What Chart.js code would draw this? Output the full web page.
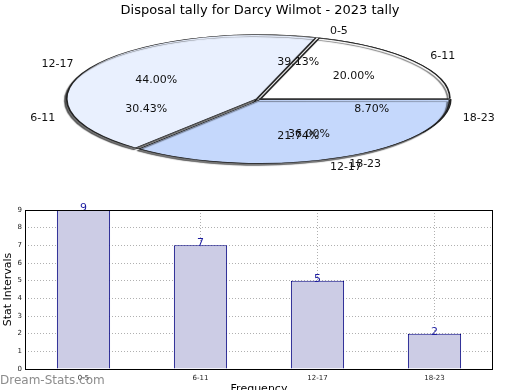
<!DOCTYPE html>
<html>
<head>
<meta charset="utf-8">
<script src="https://cdn.jsdelivr.net/npm/chart.js@4.4.0/dist/chart.umd.min.js"></script>
<style>
  html, body { margin: 0; padding: 0; background: #fff; overflow: hidden; }
  #wrap { position: relative; width: 520px; height: 390px; overflow: hidden; }
  canvas { position: absolute; left: 0; }
  #pieA, #pieB { top: 0; }
  #bars { top: 195px; }
  #mark { position: absolute; left: 0; top: 373px; font: 12px "DejaVu Sans", sans-serif; color: #8c8c8c; white-space: nowrap; }
</style>
</head>
<body>
<div id="wrap">
  <canvas id="pieA" width="520" height="200"></canvas>
  <canvas id="pieB" width="520" height="200"></canvas>
  <canvas id="bars" width="520" height="205"></canvas>
  <div id="mark">Dream-Stats.com</div>
</div>
<script>
const intervals = ["0-5", "6-11", "12-17", "18-23"];
// disposal counts per interval (bars + first pie)
const disposals = [9, 7, 5, 2];
// second pie drawn on top (20% / 44% / 36%)
const secondTally = [0, 5, 11, 9];
const sliceColors = ["#ffffff", "#ffffff", "#e9f0fe", "#c5d8fc"];
const yTicks = [0, 1, 2, 3, 4, 5, 6, 7, 8, 9];

const PIE_CX = 259, PIE_CY = 99, PIE_RX = 189, PIE_RY = 63.5;
const FONT = "'DejaVu Sans', sans-serif";

// squash the round pie into the flat ellipse, going anticlockwise from 3 o'clock
const ellipsePlugin = {
    id: "ellipse",
    beforeDatasetsDraw(chart, args, opts) {
        const arc = chart.getDatasetMeta(0).data[0];
        const ctx = chart.ctx;
        ctx.save();
        if (opts.rim) {
            ctx.shadowColor = "rgba(0, 0, 0, 0.55)";
            ctx.shadowOffsetX = -2;
            ctx.shadowOffsetY = 2;
            ctx.shadowBlur = 1;
        }
        ctx.translate(PIE_CX, PIE_CY);
        ctx.scale(PIE_RX / arc.outerRadius, -PIE_RY / arc.outerRadius);
        ctx.translate(-arc.x, -arc.y);
    },
    afterDatasetsDraw(chart) {
        chart.ctx.restore();
    }
};

function drawPieLabels(ctx, chart, values) {
    const total = values.reduce((a, b) => a + b, 0);
    chart.getDatasetMeta(0).data.forEach((arc, i) => {
        if (!values[i]) return;
        const mid = (arc.startAngle + arc.endAngle) / 2;
        const c = Math.cos(mid), s = Math.sin(mid);
        ctx.textBaseline = "middle";
        ctx.textAlign = "center";
        ctx.fillText((values[i] / total * 100).toFixed(2) + "%",
            PIE_CX + PIE_RX * 0.62 * c, PIE_CY - PIE_RY * 0.62 * s);
        ctx.textAlign = c >= 0 ? "left" : "right";
        ctx.fillText(intervals[i], PIE_CX + PIE_RX * 1.12 * c, PIE_CY - PIE_RY * 1.14 * s);
    });
}

function pieConfig(values, rim, extraPlugins) {
    return {
        type: "pie",
        data: {
            labels: intervals,
            datasets: [{
                data: values,
                backgroundColor: sliceColors,
                borderColor: "#222",
                borderWidth: 0.8,
                offset: 4,
                clip: false
            }]
        },
        options: {
            responsive: false,
            animation: false,
            events: [],
            rotation: 90,
            plugins: {
                legend: { display: false },
                tooltip: { enabled: false },
                ellipse: { rim: rim }
            }
        },
        plugins: [ellipsePlugin].concat(extraPlugins)
    };
}

const pieA = new Chart(document.getElementById("pieA"), pieConfig(disposals, false, []));

const pieLabels = {
    id: "pieLabels",
    afterDraw(chart) {
        const ctx = chart.ctx;
        ctx.save();
        ctx.fillStyle = "#111";
        ctx.font = "11px " + FONT;
        drawPieLabels(ctx, pieA, disposals);
        drawPieLabels(ctx, chart, secondTally);
        ctx.restore();
    }
};

const cfgB = pieConfig(secondTally, true, [pieLabels]);
cfgB.options.plugins.title = {
    display: true,
    text: "Disposal tally for Darcy Wilmot - 2023 tally",
    color: "#000",
    font: { family: FONT, size: 13, weight: "normal" },
    padding: { top: 3, bottom: 4 }
};
const pieB = new Chart(document.getElementById("pieB"), cfgB);

// bar chart
const barValues = {
    id: "barValues",
    afterDatasetsDraw(chart) {
        const ctx = chart.ctx;
        ctx.save();
        ctx.fillStyle = "#1c1ca0";
        ctx.font = "11px " + FONT;
        ctx.textAlign = "center";
        ctx.textBaseline = "alphabetic";
        chart.getDatasetMeta(0).data.forEach((bar, i) => {
            ctx.fillText(disposals[i], bar.x, bar.y + 1);
        });
        ctx.restore();
    }
};

const frame = {
    id: "frame",
    afterDraw(chart) {
        const a = chart.chartArea;
        const ctx = chart.ctx;
        ctx.save();
        ctx.strokeStyle = "#000";
        ctx.lineWidth = 1;
        ctx.strokeRect(Math.round(a.left) + 0.5, Math.round(a.top) + 0.5,
            Math.round(a.right - a.left) - 1, Math.round(a.bottom - a.top));
        ctx.restore();
    }
};

const dotted = { color: "#b0b0b0", lineWidth: 1, drawTicks: false, borderDash: [1, 2] };

new Chart(document.getElementById("bars"), {
    type: "bar",
    data: {
        labels: intervals,
        datasets: [{
            data: disposals,
            backgroundColor: "#ccccE5",
            borderColor: "#000080",
            borderWidth: 1,
            barPercentage: 1,
            categoryPercentage: 0.455
        }]
    },
    options: {
        responsive: false,
        animation: false,
        events: [],
        layout: { padding: { left: 0, right: 27, top: 15, bottom: 0 } },
        plugins: {
            legend: { display: false },
            tooltip: { enabled: false }
        },
        scales: {
            x: {
                grid: Object.assign({ offset: false }, dotted),
                border: { display: false, dash: [1, 2] },
                ticks: { color: "#222", font: { family: FONT, size: 7 }, padding: 5 },
                title: { display: true, text: "Frequency", color: "#000", font: { family: FONT, size: 11 }, padding: { top: 2, bottom: 4 } },
                afterFit: s => { s.height = 31; }
            },
            y: {
                min: 0,
                max: 9,
                afterBuildTicks: s => { s.ticks = yTicks.map(v => ({ value: v })); },
                grid: Object.assign({}, dotted),
                border: { display: false, dash: [1, 2] },
                ticks: { color: "#222", font: { family: FONT, size: 7 }, padding: 3 },
                title: { display: true, text: "Stat Intervals", color: "#000", font: { family: FONT, size: 11 }, padding: { top: 2, bottom: 2 } },
                afterFit: s => { s.width = 25; }
            }
        }
    },
    plugins: [barValues, frame]
});
</script>
</body>
</html>
